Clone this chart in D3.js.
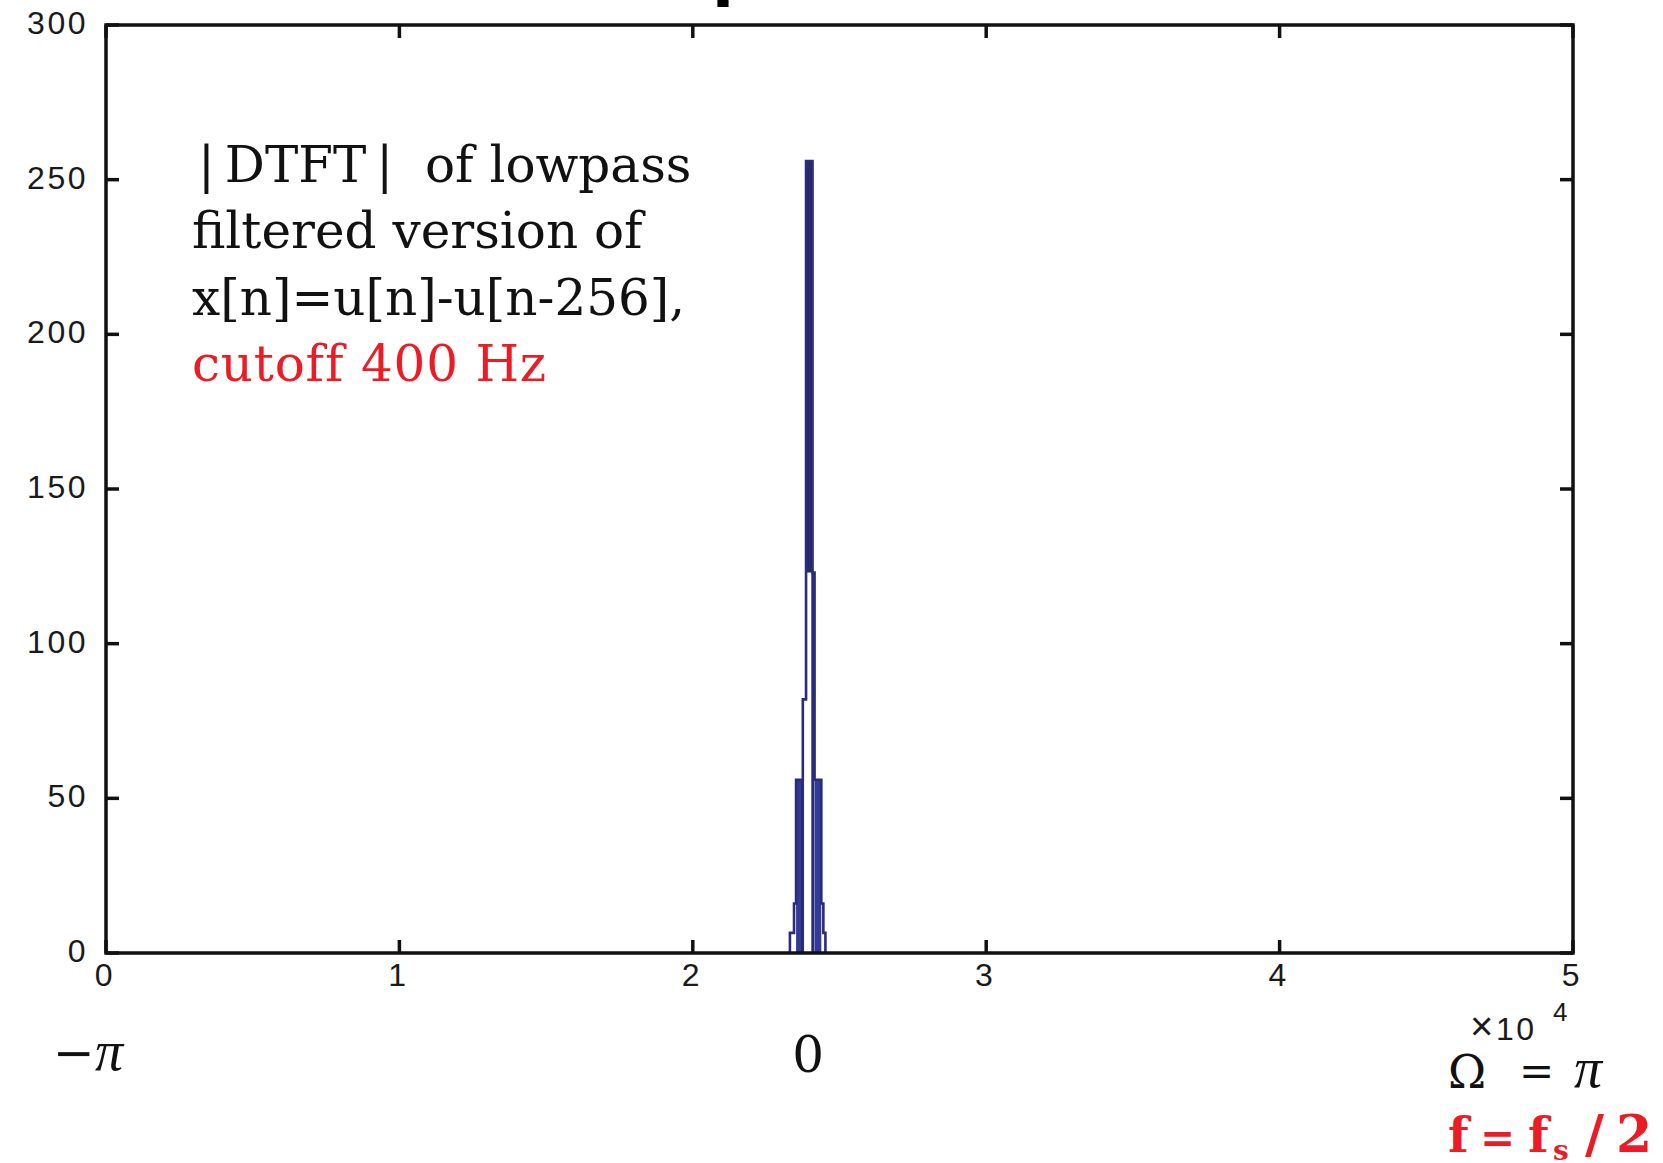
<!DOCTYPE html>
<html>
<head>
<meta charset="utf-8">
<script src="https://cdn.jsdelivr.net/npm/d3@7"></script>
<style>
  html, body { margin: 0; padding: 0; background: #fff; }
  svg { display: block; }
  .tick-label { font-family: "Liberation Sans", Arial, sans-serif; font-size: 32px; letter-spacing: 2.5px; fill: #1a1a1a; }
  .note { font-family: "DejaVu Serif", serif; font-size: 50px; }
</style>
</head>
<body>
<div id="chart"></div>
<script>
// |DTFT| of lowpass filtered rectangle, MATLAB-style plot
const xTicks = [0, 10000, 20000, 30000, 40000, 50000];
const xTickLabels = ["0", "1", "2", "3", "4", "5"];
const yTicks = [0, 50, 100, 150, 200, 250, 300];

// stepped outline of the spectrum spike (sample index, magnitude)
const outlineX = [23310, 23310, 23450, 23450, 23520, 23520, 23750, 23750, 23860, 23860,
                  24080, 24080, 24150, 24150, 24380, 24380, 24450, 24450, 24520, 24520];
const outlineY = [0, 6.5, 6.5, 16, 16, 56, 56, 82, 82, 256,
                  256, 123, 123, 56, 56, 16, 16, 6.5, 6.5, 0];

// dense (filled-looking) parts of the spike
const blockX0 = [23520, 23860, 24150];
const blockX1 = [23750, 24080, 24380];
const blockLo = [0, 123, 0];
const blockHi = [56, 256, 56];

// inner vertical strokes
const strokeX = [23740, 24090];
const strokeHi = [56, 123];

const W = 1663, H = 1163;
const margin = { top: 25, right: 90, bottom: 210, left: 106 };

const svg = d3.select("#chart").append("svg")
  .attr("width", W).attr("height", H);

const x = d3.scaleLinear().domain([0, 50000]).range([margin.left, W - margin.right]);
const y = d3.scaleLinear().domain([0, 300]).range([H - margin.bottom, margin.top]);

const navy = "#292c78";

// cut-off title descender at the very top
svg.append("text")
  .attr("x", 712).attr("y", -6)
  .attr("font-family", "DejaVu Sans, sans-serif")
  .attr("font-weight", "bold")
  .attr("font-size", 64)
  .attr("fill", "#000")
  .text("p");

// spike fills
const plot = svg.append("g");
plot.selectAll("rect.block")
  .data(blockX0.map((d, i) => ({ x0: d, x1: blockX1[i], lo: blockLo[i], hi: blockHi[i] })))
  .join("rect")
  .attr("class", "block")
  .attr("x", d => x(d.x0))
  .attr("width", d => x(d.x1) - x(d.x0))
  .attr("y", d => y(d.hi))
  .attr("height", d => y(d.lo) - y(d.hi))
  .attr("fill", (d, i) => i === 1 ? "#262a6c" : "#333b98");

plot.selectAll("line.stroke")
  .data(strokeX.map((d, i) => ({ x: d, hi: strokeHi[i] })))
  .join("line")
  .attr("class", "stroke")
  .attr("x1", d => x(d.x)).attr("x2", d => x(d.x))
  .attr("y1", y(0)).attr("y2", d => y(d.hi))
  .attr("stroke", navy).attr("stroke-width", 3);

const line = d3.line().x(d => x(d[0])).y(d => y(d[1]));
plot.append("path")
  .datum(outlineX.map((d, i) => [d, outlineY[i]]))
  .attr("d", line)
  .attr("fill", "none")
  .attr("stroke", navy)
  .attr("stroke-width", 2.6);

// axes box with inward ticks
const axisColor = "#111";
const tickLen = 13;
const frame = svg.append("g")
  .attr("stroke", axisColor).attr("stroke-width", 3.5).attr("fill", "none");

frame.append("rect")
  .attr("x", x(0)).attr("y", y(300))
  .attr("width", x(50000) - x(0)).attr("height", y(0) - y(300));

frame.selectAll("line.xb").data(xTicks).join("line")
  .attr("x1", d => x(d)).attr("x2", d => x(d))
  .attr("y1", y(0)).attr("y2", y(0) - tickLen);
frame.selectAll("line.xt").data(xTicks).join("line")
  .attr("x1", d => x(d)).attr("x2", d => x(d))
  .attr("y1", y(300)).attr("y2", y(300) + tickLen);
frame.selectAll("line.yl").data(yTicks).join("line")
  .attr("x1", x(0)).attr("x2", x(0) + tickLen)
  .attr("y1", d => y(d)).attr("y2", d => y(d));
frame.selectAll("line.yr").data(yTicks).join("line")
  .attr("x1", x(50000)).attr("x2", x(50000) - tickLen)
  .attr("y1", d => y(d)).attr("y2", d => y(d));

// tick labels
svg.selectAll("text.ylab").data(yTicks).join("text")
  .attr("class", "tick-label")
  .attr("x", x(0) - 18)
  .attr("y", d => y(d) + 9)
  .attr("text-anchor", "end")
  .text(d => d);

svg.selectAll("text.xlab").data(xTicks).join("text")
  .attr("class", "tick-label")
  .attr("x", d => x(d) - 1)
  .attr("y", y(0) + 33)
  .attr("text-anchor", "middle")
  .text((d, i) => xTickLabels[i]);

// exponent label "×10^4"
svg.append("text").attr("class", "tick-label")
  .attr("x", 1470).attr("y", 1040).style("font-size", "40px")
  .text("\u00d7");
svg.append("text").attr("class", "tick-label")
  .attr("x", 1496).attr("y", 1040)
  .text("10");
svg.append("text").attr("class", "tick-label")
  .attr("x", 1553).attr("y", 1021).style("font-size", "26px")
  .text("4");

// annotation text
const note = svg.append("g").attr("class", "note");
note.append("text").attr("x", 198).attr("y", 182).attr("fill", "#111")
  .text("|\u2009DTFT\u2009|\u00a0\u00a0of lowpass");
note.append("text").attr("x", 192).attr("y", 248).attr("fill", "#111").text("filtered version of");
note.append("text").attr("x", 192).attr("y", 315).attr("fill", "#111").text("x[n]=u[n]-u[n-256],");
note.append("text").attr("x", 192).attr("y", 381).attr("fill", "#ec1c24")
  .attr("letter-spacing", 0.8).text("cutoff 400 Hz");

// frequency annotations below the axis
const serif = "DejaVu Serif, serif";
const piFont = "Liberation Serif, serif";

const negPi = svg.append("text")
  .attr("x", 53).attr("y", 1070)
  .attr("font-family", serif).attr("font-size", 50).attr("fill", "#111");
negPi.append("tspan").text("\u2212");
negPi.append("tspan").attr("font-family", piFont).attr("font-style", "italic")
  .attr("font-size", 56).text("\u03c0");

svg.append("text")
  .attr("x", x(24000) - 2).attr("y", 1072)
  .attr("text-anchor", "middle")
  .attr("font-family", serif).attr("font-size", 50).attr("fill", "#111")
  .text("0");

svg.append("text")
  .attr("x", 1448).attr("y", 1088)
  .attr("font-family", serif).attr("font-size", 46).attr("fill", "#111")
  .text("\u03a9");
svg.append("text")
  .attr("x", 1519).attr("y", 1086)
  .attr("font-family", serif).attr("font-size", 42).attr("fill", "#111")
  .text("=");
svg.append("text")
  .attr("x", 1574).attr("y", 1087)
  .attr("font-family", piFont).attr("font-style", "italic")
  .attr("font-size", 56).attr("fill", "#111")
  .text("\u03c0");

const red = "#ec1c24";
const fsText = svg.append("text")
  .attr("y", 1152)
  .attr("font-family", serif).attr("font-weight", "bold")
  .attr("font-size", 48).attr("fill", red);
fsText.append("tspan").attr("x", 1448).text("f");
fsText.append("tspan").attr("x", 1480).attr("font-size", 42).text("=");
fsText.append("tspan").attr("x", 1528).text("f");
fsText.append("tspan").attr("x", 1553).attr("dy", 8).attr("font-size", 28).text("s");
fsText.append("tspan").attr("x", 1585).attr("dy", -8).attr("font-size", 52).text("/");
fsText.append("tspan").attr("x", 1616).attr("font-size", 52).text("2");
</script>
</body>
</html>
